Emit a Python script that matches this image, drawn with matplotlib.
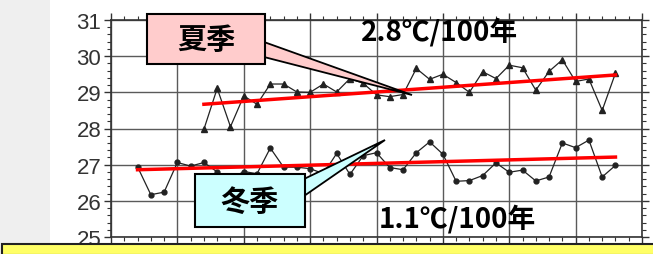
import matplotlib.pyplot as plt
import matplotlib.patches as mpatches
from matplotlib.ticker import MultipleLocator

# year index (axis units), one point per year
winter_x = list(range(2, 39))
winter_t = [26.94, 26.17, 26.24, 27.06, 26.96, 27.06, 26.80, 26.60, 26.81, 26.75,
            27.46, 26.93, 26.93, 26.89, 26.75, 27.31, 26.73, 27.25, 27.33, 26.92,
            26.86, 27.33, 27.63, 27.29, 26.54, 26.56, 26.70, 27.05, 26.79, 26.85,
            26.55, 26.66, 27.60, 27.47, 27.68, 26.66, 26.98]
summer_x = list(range(7, 39))
summer_t = [27.98, 29.11, 28.05, 28.90, 28.67, 29.23, 29.23, 29.01, 29.00, 29.23,
            29.01, 29.38, 29.25, 28.93, 28.88, 28.94, 29.66, 29.36, 29.50, 29.27,
            29.00, 29.57, 29.38, 29.75, 29.68, 29.06, 29.58, 29.90, 29.30, 29.37,
            28.50, 29.53]

summer_trend_x = [7, 38]
summer_trend = [28.67, 29.48]
winter_trend_x = [2, 38]
winter_trend = [26.86, 27.21]

summer_label = '夏季'
winter_label = '冬季'
summer_rate = '2.8℃/100年'
winter_rate = '1.1℃/100年'

cjk = ['Noto Sans CJK JP', 'DejaVu Sans']

W, H = 653, 255
fig = plt.figure(figsize=(W / 100, H / 100), dpi=100)
fig.patch.set_facecolor('white')

def px(x, y):
    return x / W, 1 - y / H

# grey strip on the left
fig.patches.append(mpatches.Rectangle((0, 0), 50 / W, 1, transform=fig.transFigure,
                                      facecolor='#efefef', edgecolor='none', zorder=0))

ax = fig.add_axes([111 / W, 1 - 238 / H, 531 / W, 217 / H])
ax.set_xlim(0, 40)
ax.set_ylim(25, 31)
ax.xaxis.set_major_locator(MultipleLocator(5))
ax.xaxis.set_minor_locator(MultipleLocator(1))
ax.yaxis.set_major_locator(MultipleLocator(1))
ax.yaxis.set_minor_locator(MultipleLocator(0.2))
ax.grid(True, which='major', color='#5a5a5a', linewidth=1.0)
ax.set_axisbelow(True)
ax.tick_params(which='both', direction='out', top=True, right=True, color='#333333')
ax.tick_params(which='major', length=5, width=1)
ax.tick_params(which='minor', length=3, width=0.8)
ax.tick_params(axis='x', labelbottom=False)
ax.tick_params(axis='y', labelsize=16, labelcolor='#333333', pad=2)
for lab in ax.get_yticklabels():
    lab.set_family('Liberation Sans')
for s in ax.spines.values():
    s.set_color('#333333')
    s.set_linewidth(1.2)

ax.plot(summer_x, summer_t, color='#222222', lw=0.9, marker='^', ms=4, zorder=3)
ax.plot(winter_x, winter_t, color='#222222', lw=0.9, marker='o', ms=3.5, zorder=3)
ax.plot(summer_trend_x, summer_trend, color='#ff0000', lw=2.5, zorder=4)
ax.plot(winter_trend_x, winter_trend, color='#ff0000', lw=2.5, zorder=4)

# callouts in figure pixels
def callout(box, tail, face, text):
    x0, y0, x1, y1 = box
    poly = mpatches.Polygon([px(*p) for p in tail], closed=True, transform=fig.transFigure,
                            facecolor=face, edgecolor='black', lw=1.3, zorder=5)
    fig.patches.append(poly)
    rect = mpatches.Rectangle(px(x0, y1), (x1 - x0) / W, (y1 - y0) / H,
                              transform=fig.transFigure, facecolor=face,
                              edgecolor='black', lw=1.5, zorder=6)
    fig.patches.append(rect)
    cx, cy = px((x0 + x1) / 2, (y0 + y1) / 2)
    fig.text(cx, cy, text, family=cjk, fontsize=21, fontweight='bold',
             ha='center', va='center', zorder=7)

callout((147, 15, 265, 65), [(264, 43), (412, 96), (264, 58)], '#ffcccc', summer_label)
callout((195, 175, 305, 228), [(304, 180), (385, 141), (304, 197)], '#ccffff', winter_label)

fig.text(*px(440, 32), summer_rate, family=cjk, fontsize=20, fontweight='bold',
         ha='center', va='center')
fig.text(*px(457, 219), winter_rate, family=cjk, fontsize=20, fontweight='bold',
         ha='center', va='center')

# yellow box at the bottom
fig.patches.append(mpatches.Rectangle(px(2, 256), 660 / W, 11 / H, transform=fig.transFigure,
                                      facecolor='#ffff66', edgecolor='#222222', lw=1.5,
                                      zorder=8))

fig.savefig('out.png', dpi=100)
